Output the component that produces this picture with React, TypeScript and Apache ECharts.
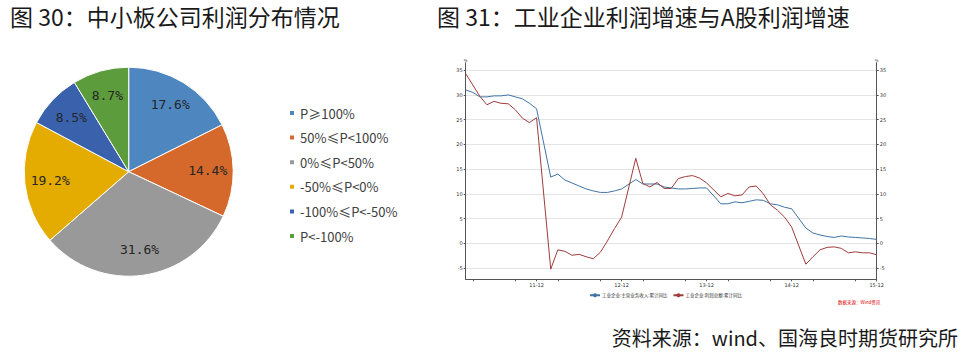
import React, { useEffect, useRef } from 'react';
import * as echarts from 'echarts';

// ---------- Pie: 中小板公司利润分布 ----------
const pieNames = ['P≥100%', '50%≤P<100%', '0%≤P<50%', '-50%≤P<0%', '-100%≤P<-50%', 'P<-100%'];
const pieValues = [17.6, 14.4, 31.6, 19.2, 8.5, 8.7];
const pieColors = ['#4e86c0', '#d4692b', '#999999', '#e4ab00', '#3a62ac', '#5c9c3c'];

// ---------- Lines: 工业企业利润增速 ----------
const years = ['2011', '2012', '2013', '2014', '2015'];
const monthNums = ['01', '02', '03', '04', '05', '06', '07', '08', '09', '10', '11', '12'];
const months: string[] = [];
years.forEach((y) => monthNums.forEach((m) => months.push(y + '-' + m)));
const categories = months.slice(1); // 2011-02 .. 2015-12

const seriesNames = ['工业企业:主营业务收入:累计同比', '工业企业:利润总额:累计同比'];
const revenueGrowth = [
  31.0, 30.5, 29.6, 29.6, 29.8, 29.8, 30.0, 29.6, 29.2, 28.3, 27.2, null,
  13.4, 14.0, 12.8, 12.2, 11.6, 11.0, 10.6, 10.3, 10.3, 10.6, 11.0, null,
  12.9, 12.0, 12.0, 12.0, 11.4, 11.2, 11.0, 11.0, 11.1, 11.2, 11.2, null,
  8.0, 8.0, 8.4, 8.2, 8.5, 8.8, 8.7, 8.0, 7.8, 7.3, 7.0, null,
  3.1, 2.1, 1.7, 1.4, 1.2, 1.5, 1.3, 1.2, 1.1, 1.0, 0.8,
];
const profitGrowth = [
  34.3, 32.0, 29.7, 28.0, 28.7, 28.3, 28.2, 27.0, 25.3, 24.4, 25.4, null,
  -5.2, -1.3, -1.6, -2.4, -2.2, -2.7, -3.1, -1.8, 0.5, 3.0, 5.3, null,
  17.2, 12.1, 11.4, 12.3, 11.1, 11.1, 13.1, 13.5, 13.7, 13.2, 12.2, null,
  9.4, 10.1, 9.6, 9.8, 11.4, 11.6, 10.0, 7.8, 6.7, 5.3, 3.3, null,
  -4.2, -2.7, -1.3, -0.8, -0.7, -1.0, -1.9, -1.7, -1.9, -1.9, -2.3,
];
const lineColors = ['#3f74a8', '#a03c3c'];

const title1 = '图 30：中小板公司利润分布情况';
const title2 = '图 31：工业企业利润增速与A股利润增速';
const sourceText = '资料来源：wind、国海良时期货研究所';
const windText = '数据来源：Wind资讯';

const CJK = '"Noto Sans CJK SC", "Noto Sans", sans-serif';

export default function App() {
  const ref = useRef<HTMLDivElement>(null);
  useEffect(() => {
    if (!ref.current) return;
    const chart = echarts.init(ref.current, null, { renderer: 'svg' });
    const yMin = -7.25;
    const yMax = 36.5;
    const splitColors = ['rgba(0,0,0,0)'];
    for (let i = 0; i < 9; i++) splitColors.push('#e4e4e4');
    splitColors.push('rgba(0,0,0,0)');
    const isDec = (_i: number, v: string) => v.slice(5) === '12';
    const isTick = (_i: number, v: string) => ['03', '09', '12'].includes(v.slice(5));

    const yCommon = {
      type: 'value',
      min: yMin,
      max: yMax,
      splitNumber: 9,
      axisLine: { show: true, lineStyle: { color: '#555', width: 1 } },
      axisTick: { show: true, length: 2, lineStyle: { color: '#555' } },
      axisLabel: {
        fontSize: 5,
        color: '#333',
        margin: 3,
        showMinLabel: false,
        showMaxLabel: false,
        fontFamily: 'DejaVu Sans',
      },
      name: '%',
      nameGap: 1,
      nameTextStyle: { fontSize: 4, color: '#333' },
    };

    const option: any = {
      animation: false,
      backgroundColor: '#ffffff',
      textStyle: { fontFamily: CJK },
      graphic: [
        {
          type: 'text',
          left: 10,
          top: 4,
          style: { text: title1, fontSize: 23, fill: '#1a1a1a', fontFamily: CJK },
        },
        {
          type: 'text',
          left: 437,
          top: 4,
          style: { text: title2, fontSize: 23, fill: '#1a1a1a', fontFamily: CJK },
        },
        {
          type: 'text',
          right: 10,
          top: 327,
          style: { text: sourceText, fontSize: 20, fill: '#1a1a1a', fontFamily: CJK },
        },
        {
          type: 'text',
          left: 838,
          top: 300,
          style: { text: windText, fontSize: 4.5, fill: '#e00000', fontFamily: CJK },
        },
      ],
      legend: [
        {
          orient: 'vertical',
          left: 283,
          top: 101.5,
          itemWidth: 6,
          itemHeight: 6,
          itemGap: 11.6,
          icon: 'rect',
          data: pieNames,
          textStyle: { fontSize: 13, color: '#404040', fontFamily: CJK },
        },
        {
          orient: 'horizontal',
          left: 584,
          top: 288,
          itemWidth: 10,
          itemHeight: 5,
          itemGap: 5,
          data: seriesNames,
          textStyle: { fontSize: 4.5, color: '#333', fontFamily: CJK, padding: [0, 0, 0, -3] },
        },
      ],
      grid: {
        left: 465.7,
        right: 968 - 876.7,
        top: 62.7,
        bottom: 352 - 279.3,
        containLabel: false,
        outerBoundsMode: 'none',
      },
      xAxis: {
        type: 'category',
        data: categories,
        boundaryGap: false,
        axisLine: { show: true, onZero: false, lineStyle: { color: '#555', width: 1 } },
        axisTick: { show: true, length: 2, interval: isTick, lineStyle: { color: '#555' } },
        axisLabel: {
          interval: isDec,
          formatter: (v: string) => v.slice(2),
          fontSize: 5,
          color: '#333',
          margin: 3,
          fontFamily: 'DejaVu Sans',
        },
        splitLine: { show: false },
      },
      yAxis: [
        {
          ...yCommon,
          position: 'left',
          splitLine: { show: true, lineStyle: { color: splitColors, width: 1 } },
        },
        {
          ...yCommon,
          position: 'right',
          splitLine: { show: false },
        },
      ],
      series: [
        {
          type: 'pie',
          name: 'pieBase',
          center: [128.7, 171.7],
          radius: [0, 104.5],
          startAngle: 90,
          clockwise: true,
          label: { show: false },
          labelLine: { show: false },
          itemStyle: { borderColor: '#ffffff', borderWidth: 1 },
          emphasis: { disabled: true },
          data: pieNames.map((n, i) => ({ name: n, value: pieValues[i], itemStyle: { color: pieColors[i] } })),
        },
        {
          type: 'pie',
          name: 'pieLabels',
          center: [128.7, 171.7],
          radius: [47.5, 104.5],
          startAngle: 90,
          clockwise: true,
          silent: true,
          legendHoverLink: false,
          itemStyle: { color: 'rgba(0,0,0,0)', borderWidth: 0 },
          label: {
            show: true,
            position: 'inside',
            formatter: (p: any) => p.value.toFixed(1) + '%',
            fontSize: 13,
            color: '#262626',
            fontFamily: '"DejaVu Sans Mono", "Liberation Mono", monospace',
          },
          labelLine: { show: false },
          emphasis: { disabled: true },
          data: pieNames.map((n, i) => ({ name: n, value: pieValues[i] })),
        },
        {
          type: 'line',
          name: seriesNames[0],
          data: revenueGrowth,
          xAxisIndex: 0,
          yAxisIndex: 0,
          symbol: 'none',
          connectNulls: true,
          clip: false,
          lineStyle: { color: lineColors[0], width: 1 },
          itemStyle: { color: lineColors[0] },
        },
        {
          type: 'line',
          name: seriesNames[1],
          data: profitGrowth,
          xAxisIndex: 0,
          yAxisIndex: 0,
          symbol: 'none',
          connectNulls: true,
          clip: false,
          lineStyle: { color: lineColors[1], width: 1 },
          itemStyle: { color: lineColors[1] },
        },
      ],
    };
    chart.setOption(option);
    return () => chart.dispose();
  }, []);
  return (
    <div
      ref={ref}
      style={{ position: 'fixed', left: 0, top: 0, width: 968, height: 352, background: '#fff' }}
    />
  );
}
